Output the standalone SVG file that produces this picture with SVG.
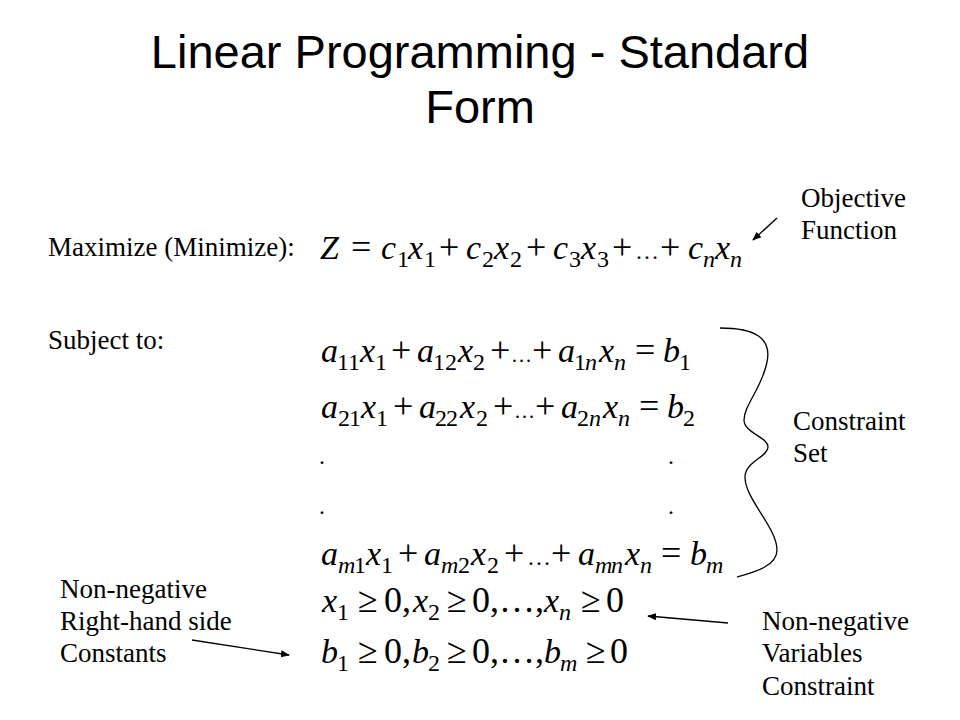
<svg xmlns="http://www.w3.org/2000/svg" width="960" height="720" viewBox="0 0 960 720">
<style>
.t{font-family:"Liberation Sans",Arial,sans-serif;font-size:47px;fill:#000}
.l{font-family:"Liberation Serif","Times New Roman",serif;font-size:27px;fill:#000}
.m{font-family:"Liberation Serif","Times New Roman",serif;font-size:36px;fill:#000}
.i{font-style:italic;font-size:34px}
.s{font-size:24px}
.e{font-size:21px}
.si{font-size:24px;font-style:italic}
.c{fill:none;stroke:#000;stroke-width:1.3}
</style>
<defs>
<marker id="ah" viewBox="0 0 10 10" refX="9" refY="5" markerWidth="9" markerHeight="9" markerUnits="userSpaceOnUse" orient="auto">
<path d="M0,1 L10,5 L0,9 Z" fill="#000"/>
</marker>
</defs>
<rect width="960" height="720" fill="#fff"/>
<g id="title">
<text class="t" x="480" y="68" text-anchor="middle">Linear Programming - Standard</text>
<text class="t" x="480" y="123" text-anchor="middle">Form</text>
</g>
<g id="labels">
<text class="l" x="48" y="256">Maximize (Minimize):</text>
<text class="l" x="48" y="349">Subject to:</text>
</g>
<g id="objective-label">
<text class="l" x="801" y="207">Objective</text>
<text class="l" x="801" y="239">Function</text>
</g>
<g id="constraint-label">
<text class="l" x="793" y="430">Constraint</text>
<text class="l" x="793" y="462">Set</text>
</g>
<g id="rhs-label">
<text class="l" x="60" y="598">Non-negative</text>
<text class="l" x="60" y="630">Right-hand side</text>
<text class="l" x="60" y="662">Constants</text>
</g>
<g id="var-label">
<text class="l" x="762" y="630">Non-negative</text>
<text class="l" x="762" y="662">Variables</text>
<text class="l" x="762" y="695">Constraint</text>
</g>
<g id="objective-eq">
<text class="m"><tspan class="i" x="320" y="259">Z</tspan><tspan x="351" y="259">=</tspan><tspan class="i" x="381" y="259">c</tspan><tspan class="s" x="397" y="267">1</tspan><tspan class="i" x="408" y="259">x</tspan><tspan class="s" x="424" y="267">1</tspan><tspan x="439" y="259">+</tspan><tspan class="i" x="466" y="259">c</tspan><tspan class="s" x="482" y="267">2</tspan><tspan class="i" x="494" y="259">x</tspan><tspan class="s" x="510" y="267">2</tspan><tspan x="526" y="259">+</tspan><tspan class="i" x="553" y="259">c</tspan><tspan class="s" x="569" y="267">3</tspan><tspan class="i" x="581" y="259">x</tspan><tspan class="s" x="597" y="267">3</tspan><tspan x="612" y="259">+</tspan><tspan class="s" x="635" y="259">…</tspan><tspan x="660" y="259">+</tspan><tspan class="i" x="688" y="259">c</tspan><tspan class="si" x="703" y="267">n</tspan><tspan class="i" x="715" y="259">x</tspan><tspan class="si" x="730" y="267">n</tspan></text>
</g>
<g id="constraints">
<text class="m"><tspan class="i" x="321" y="362">a</tspan><tspan class="s" x="337" y="370">1</tspan><tspan class="s" x="348" y="370">1</tspan><tspan class="i" x="360" y="362">x</tspan><tspan class="s" x="375" y="370">1</tspan><tspan x="391" y="362">+</tspan><tspan class="i" x="417" y="362">a</tspan><tspan class="s" x="433" y="370">1</tspan><tspan class="s" x="445" y="370">2</tspan><tspan class="i" x="458" y="362">x</tspan><tspan class="s" x="473" y="370">2</tspan><tspan x="490" y="362">+</tspan><tspan class="e" x="511" y="362">…</tspan><tspan x="532" y="362">+</tspan><tspan class="i" x="558" y="362">a</tspan><tspan class="s" x="574" y="370">1</tspan><tspan class="si" x="585" y="370">n</tspan><tspan class="i" x="599" y="362">x</tspan><tspan class="si" x="614" y="370">n</tspan><tspan x="635" y="362">=</tspan><tspan class="i" x="663" y="362">b</tspan><tspan class="s" x="679" y="370">1</tspan></text>
<text class="m"><tspan class="i" x="321" y="418">a</tspan><tspan class="s" x="338" y="426">2</tspan><tspan class="s" x="349" y="426">1</tspan><tspan class="i" x="361" y="418">x</tspan><tspan class="s" x="376" y="426">1</tspan><tspan x="393" y="418">+</tspan><tspan class="i" x="419" y="418">a</tspan><tspan class="s" x="435" y="426">2</tspan><tspan class="s" x="446" y="426">2</tspan><tspan class="i" x="460" y="418">x</tspan><tspan class="s" x="476" y="426">2</tspan><tspan x="493" y="418">+</tspan><tspan class="e" x="514" y="418">…</tspan><tspan x="535" y="418">+</tspan><tspan class="i" x="561" y="418">a</tspan><tspan class="s" x="577" y="426">2</tspan><tspan class="si" x="589" y="426">n</tspan><tspan class="i" x="603" y="418">x</tspan><tspan class="si" x="618" y="426">n</tspan><tspan x="639" y="418">=</tspan><tspan class="i" x="667" y="418">b</tspan><tspan class="s" x="683" y="426">2</tspan></text>
<text class="s" x="319" y="464">.</text>
<text class="s" x="668" y="464">.</text>
<text class="s" x="319" y="514">.</text>
<text class="s" x="668" y="514">.</text>
<text class="m"><tspan class="i" x="321" y="565">a</tspan><tspan class="si" x="338" y="573">m</tspan><tspan class="s" x="354" y="573">1</tspan><tspan class="i" x="366" y="565">x</tspan><tspan class="s" x="381" y="573">1</tspan><tspan x="398" y="565">+</tspan><tspan class="i" x="424" y="565">a</tspan><tspan class="si" x="441" y="573">m</tspan><tspan class="s" x="458" y="573">2</tspan><tspan class="i" x="471" y="565">x</tspan><tspan class="s" x="487" y="573">2</tspan><tspan x="504" y="565">+</tspan><tspan class="s" x="527" y="565">…</tspan><tspan x="551" y="565">+</tspan><tspan class="i" x="578" y="565">a</tspan><tspan class="si" x="595" y="573">m</tspan><tspan class="si" x="611" y="573">n</tspan><tspan class="i" x="625" y="565">x</tspan><tspan class="si" x="640" y="573">n</tspan><tspan x="661" y="565">=</tspan><tspan class="i" x="690" y="565">b</tspan><tspan class="si" x="706" y="573">m</tspan></text>
</g>
<g id="nonneg">
<text class="m"><tspan class="i" x="322" y="612">x</tspan><tspan class="s" x="337" y="620">1</tspan><tspan x="358" y="612">≥</tspan><tspan x="384" y="612">0</tspan><tspan x="402" y="612">,</tspan><tspan class="i" x="413" y="612">x</tspan><tspan class="s" x="428" y="620">2</tspan><tspan x="447" y="612">≥</tspan><tspan x="472" y="612">0</tspan><tspan x="490" y="612">,…,</tspan><tspan class="i" x="544" y="612">x</tspan><tspan class="si" x="559" y="620">n</tspan><tspan x="581" y="612">≥</tspan><tspan x="606" y="612">0</tspan></text>
<text class="m"><tspan class="i" x="321" y="663">b</tspan><tspan class="s" x="337" y="671">1</tspan><tspan x="358" y="663">≥</tspan><tspan x="384" y="663">0</tspan><tspan x="402" y="663">,</tspan><tspan class="i" x="412" y="663">b</tspan><tspan class="s" x="428" y="671">2</tspan><tspan x="447" y="663">≥</tspan><tspan x="472" y="663">0</tspan><tspan x="490" y="663">,…,</tspan><tspan class="i" x="544" y="663">b</tspan><tspan class="si" x="560" y="671">m</tspan><tspan x="586" y="663">≥</tspan><tspan x="610" y="663">0</tspan></text>
</g>
<g id="connectors">
<line class="c" x1="777" y1="218" x2="753" y2="240" marker-end="url(#ah)"/>
<line class="c" x1="192" y1="640" x2="289" y2="655" marker-end="url(#ah)"/>
<line class="c" x1="728" y1="623" x2="648" y2="616" marker-end="url(#ah)"/>
<path class="c" d="M720,328 C755,328 772,338 767,362 C762,388 744,405 744,420 C744,433 768,437 768,447 C768,457 744,462 745,478 C746,500 777,528 777,550 C777,566 755,572 737,577"/>
</g>
</svg>
